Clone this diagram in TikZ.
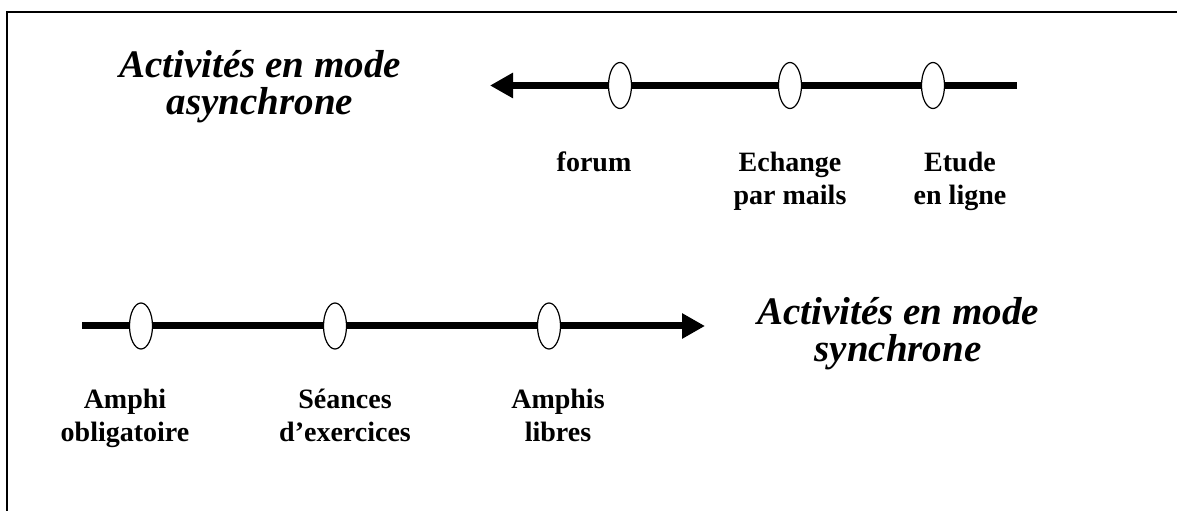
\documentclass[tikz,border=0pt]{standalone}
\usepackage{fontspec}
\setmainfont{Liberation Serif}
\usetikzlibrary{arrows.meta,shapes.geometric}

\tikzset{
  axe/.style={line width=7bp,-{Triangle[length=23bp,width=24bp]}},
  jalon/.style={ellipse,draw,fill=white,line width=1.2bp,minimum width=23bp,minimum height=46bp,inner sep=0pt},
  etiquette/.style={align=center,inner sep=0pt,anchor=base,font=\fontsize{28bp}{33bp}\selectfont\bfseries},
  titre/.style={align=center,inner sep=0pt,anchor=base,font=\fontsize{39bp}{37bp}\selectfont\bfseries\itshape}
}

\begin{document}
\begin{tikzpicture}[x=1bp,y=-1bp]
        \useasboundingbox (0,0) rectangle (1177,511);
        \draw [line width=2.5bp] (7,511) -- (7,12) -- (1177,12);

        % mode asynchrone
        \coordinate (adep) at (1017,85.5);
        \coordinate (aarr) at (490,85.5);
        \draw [axe] (adep) -- (aarr);
        \foreach \x/\n in {620/forum,790/mails,933/ligne} {
                \node [jalon] (\n) at (\x,85.5) {};
        }
        \node [titre] (tasync) at (260,115) {Activités en mode\\asynchrone};
        \node [etiquette] (lforum) at (594,172) {forum};
        \node [etiquette] (lmails) at (790,205) {Echange\\par mails};
        \node [etiquette] (lligne) at (960,205) {Etude\\en ligne};

        % mode synchrone
        \coordinate (sdep) at (82,326);
        \coordinate (sarr) at (705,326);
        \draw [axe] (sdep) -- (sarr);
        \foreach \x/\n in {141/oblig,335/seances,549/libres} {
                \node [jalon] (\n) at (\x,326) {};
        }
        \node [titre] (tsync) at (898,362) {Activités en mode\\synchrone};
        \node [etiquette] (loblig) at (125,441) {Amphi\\obligatoire};
        \node [etiquette] (lseances) at (345,441) {Séances\\d’exercices};
        \node [etiquette] (llibres) at (558,441) {Amphis\\libres};

\end{tikzpicture}
\end{document}
